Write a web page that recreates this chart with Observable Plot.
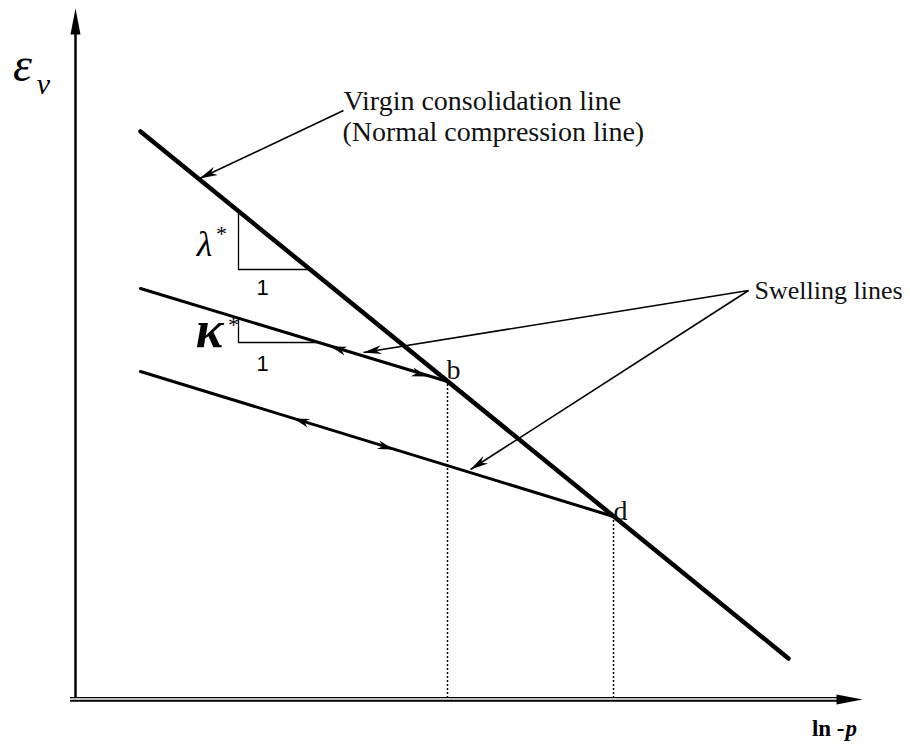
<!DOCTYPE html>
<html><head><meta charset="utf-8">
<script src="https://cdn.jsdelivr.net/npm/d3@7"></script>
<script src="https://cdn.jsdelivr.net/npm/@observablehq/plot@0.6"></script>
<style>html,body{margin:0;padding:0;background:#fff}</style>
</head><body><div id="chart"></div>
<script>
// Schematic units: x = ln(-p), y = volumetric strain εv; origin at the axes corner
const ncl = [{x: 65, y: 567}, {x: 713, y: 40}];                 // virgin consolidation line
const swellingUpper = [{x: 65, y: 410}, {x: 372, y: 317}];      // swelling line through b
const swellingLower = [{x: 65, y: 327}, {x: 538, y: 182}];      // swelling line through d
const yieldPoints = [{name: "b", x: 372, y: 317, lx: 371, ly: 328}, {name: "d", x: 538, y: 182, lx: 538, ly: 187}];
const lambdaTriangle = [{x: 163, y: 487}, {x: 163, y: 429}, {x: 235, y: 429}];
const kappaTriangle = [{x: 163, y: 380}, {x: 163, y: 356}, {x: 243, y: 356}];
const lineArrows = [
  {line: swellingUpper, x: 255, y: 352, dir: -1},
  {line: swellingUpper, x: 352, y: 322, dir: 1},
  {line: swellingLower, x: 218, y: 280, dir: -1},
  {line: swellingLower, x: 318, y: 249, dir: 1}
];
const callouts = [
  {x1: 268, y1: 588, x2: 124, y2: 520},
  {x1: 673, y1: 408, x2: 288, y2: 346},
  {x1: 673, y1: 408, x2: 395, y2: 229}
];
const calloutLabels = [
  {text: "Virgin consolidation line", x: 268, y: 597, size: 28},
  {text: "(Normal compression line)", x: 267, y: 566, size: 28},
  {text: "Swelling lines", x: 679, y: 408, size: 26}
];
const slopeSymbols = [{text: "λ", x: 129, y: 454}, {text: "κ", x: 134, y: 368}];
const slopeStars = [{text: "*", x: 146, y: 465}, {text: "*", x: 158, y: 374}];
const unitLabels = [{text: "1", x: 187, y: 411}, {text: "1", x: 187, y: 335}];
const yAxisEnd = {x: 0, y: 690, base: 665};
const xAxisEnd = {x: 787, y: -1, base: 763};

const deg = (dx, dy) => Math.atan2(dx, dy) * 180 / Math.PI;
const barb = {draw(c, l, r) { c.moveTo(0, -l); c.lineTo(-r, 0); c.lineTo(0, -l * 0.3); c.lineTo(r, 0); c.closePath(); }};
const tri = {draw(c, l, r) { c.moveTo(0, -l); c.lineTo(-r, 0); c.lineTo(r, 0); c.closePath(); }};
const serif = "Liberation Serif, Times New Roman, serif";

const arrowData = lineArrows.map(a => ({x: a.x, y: a.y,
  angle: deg(a.dir * (a.line[1].x - a.line[0].x), a.dir * (a.line[1].y - a.line[0].y))}));
const calloutHeads = callouts.map(c => ({x: c.x2, y: c.y2, angle: deg(c.x2 - c.x1, c.y2 - c.y1)}));

const chart = Plot.plot({
  width: 910, height: 744,
  marginTop: 0, marginRight: 0, marginBottom: 0, marginLeft: 0,
  x: {domain: [-75, 835], range: [0, 910], axis: null},
  y: {domain: [-46, 698], range: [744, 0], axis: null},
  style: {background: "white", overflow: "visible"},
  marks: [
    // axes
    Plot.ruleX([yAxisEnd], {x: 0, y1: 0, y2: "base", strokeWidth: 2.5}),
    Plot.vector([yAxisEnd], {x: "x", y: "y", rotate: 0, length: 26, r: 5, shape: tri, anchor: "end", fill: "black", stroke: "none"}),
    Plot.ruleY([xAxisEnd], {y: 0.8, x1: -5, x2: "base", strokeWidth: 1.2}),
    Plot.ruleY([xAxisEnd], {y: -2.2, x1: -5, x2: "base", strokeWidth: 2}),
    Plot.vector([xAxisEnd], {x: "x", y: "y", rotate: 90, length: 26, r: 5, shape: tri, anchor: "end", fill: "black", stroke: "none"}),
    // dotted projections
    Plot.ruleX(yieldPoints, {x: "x", y1: 0, y2: "y", strokeWidth: 1.5, strokeDasharray: "2,2"}),
    // slope triangles
    Plot.line(lambdaTriangle, {x: "x", y: "y", strokeWidth: 1.3}),
    Plot.line(kappaTriangle, {x: "x", y: "y", strokeWidth: 1.3}),
    // lines
    Plot.line(swellingUpper, {x: "x", y: "y", strokeWidth: 3, strokeLinecap: "round"}),
    Plot.line(swellingLower, {x: "x", y: "y", strokeWidth: 3, strokeLinecap: "round"}),
    Plot.line(ncl, {x: "x", y: "y", strokeWidth: 4.5, strokeLinecap: "round"}),
    Plot.vector(arrowData, {x: "x", y: "y", rotate: "angle", length: 16, r: 4.5, shape: barb, anchor: "end", fill: "black", stroke: "none"}),
    // callouts
    Plot.link(callouts, {x1: "x1", y1: "y1", x2: "x2", y2: "y2", strokeWidth: 1.6}),
    Plot.vector(calloutHeads, {x: "x", y: "y", rotate: "angle", length: 18, r: 4.5, shape: barb, anchor: "end", fill: "black", stroke: "none"}),
    Plot.text(calloutLabels.slice(0, 2), {x: "x", y: "y", text: "text", textAnchor: "start", fontFamily: serif, fontSize: 28, fill: "#111"}),
    Plot.text(calloutLabels.slice(2), {x: "x", y: "y", text: "text", textAnchor: "start", fontFamily: serif, fontSize: 26, fill: "#111"}),
    Plot.text(yieldPoints, {x: "lx", y: "ly", text: "name", textAnchor: "start", fontFamily: serif, fontSize: 28, fill: "#111"}),
    // slope labels
    Plot.text(slopeSymbols.slice(0, 1), {x: "x", y: "y", text: "text", fontFamily: serif, fontStyle: "italic", fontSize: 36}),
    Plot.text(slopeSymbols.slice(1), {x: "x", y: "y", text: "text", fontFamily: serif, fontStyle: "italic", fontWeight: "bold", fontSize: 52}),
    Plot.text(slopeStars, {x: "x", y: "y", text: "text", fontFamily: serif, fontSize: 22}),
    Plot.text(unitLabels, {x: "x", y: "y", text: "text", fontFamily: "Liberation Sans, Arial, sans-serif", fontSize: 22}),
    // axis labels
    Plot.text([{t: "ε"}], {x: -53, y: 633, text: "t", fontFamily: serif, fontStyle: "italic", fontSize: 48}),
    Plot.text([{t: "v"}], {x: -32, y: 614, text: "t", fontFamily: serif, fontStyle: "italic", fontSize: 30}),
    Plot.text([{t: "ln -"}], {x: 769, y: -30, text: "t", textAnchor: "end", fontFamily: serif, fontWeight: "bold", fontSize: 23}),
    Plot.text([{t: "p"}], {x: 770, y: -30, text: "t", textAnchor: "start", fontFamily: serif, fontWeight: "bold", fontStyle: "italic", fontSize: 23})
  ]
});
document.getElementById("chart").appendChild(chart);
</script>
</body></html>
